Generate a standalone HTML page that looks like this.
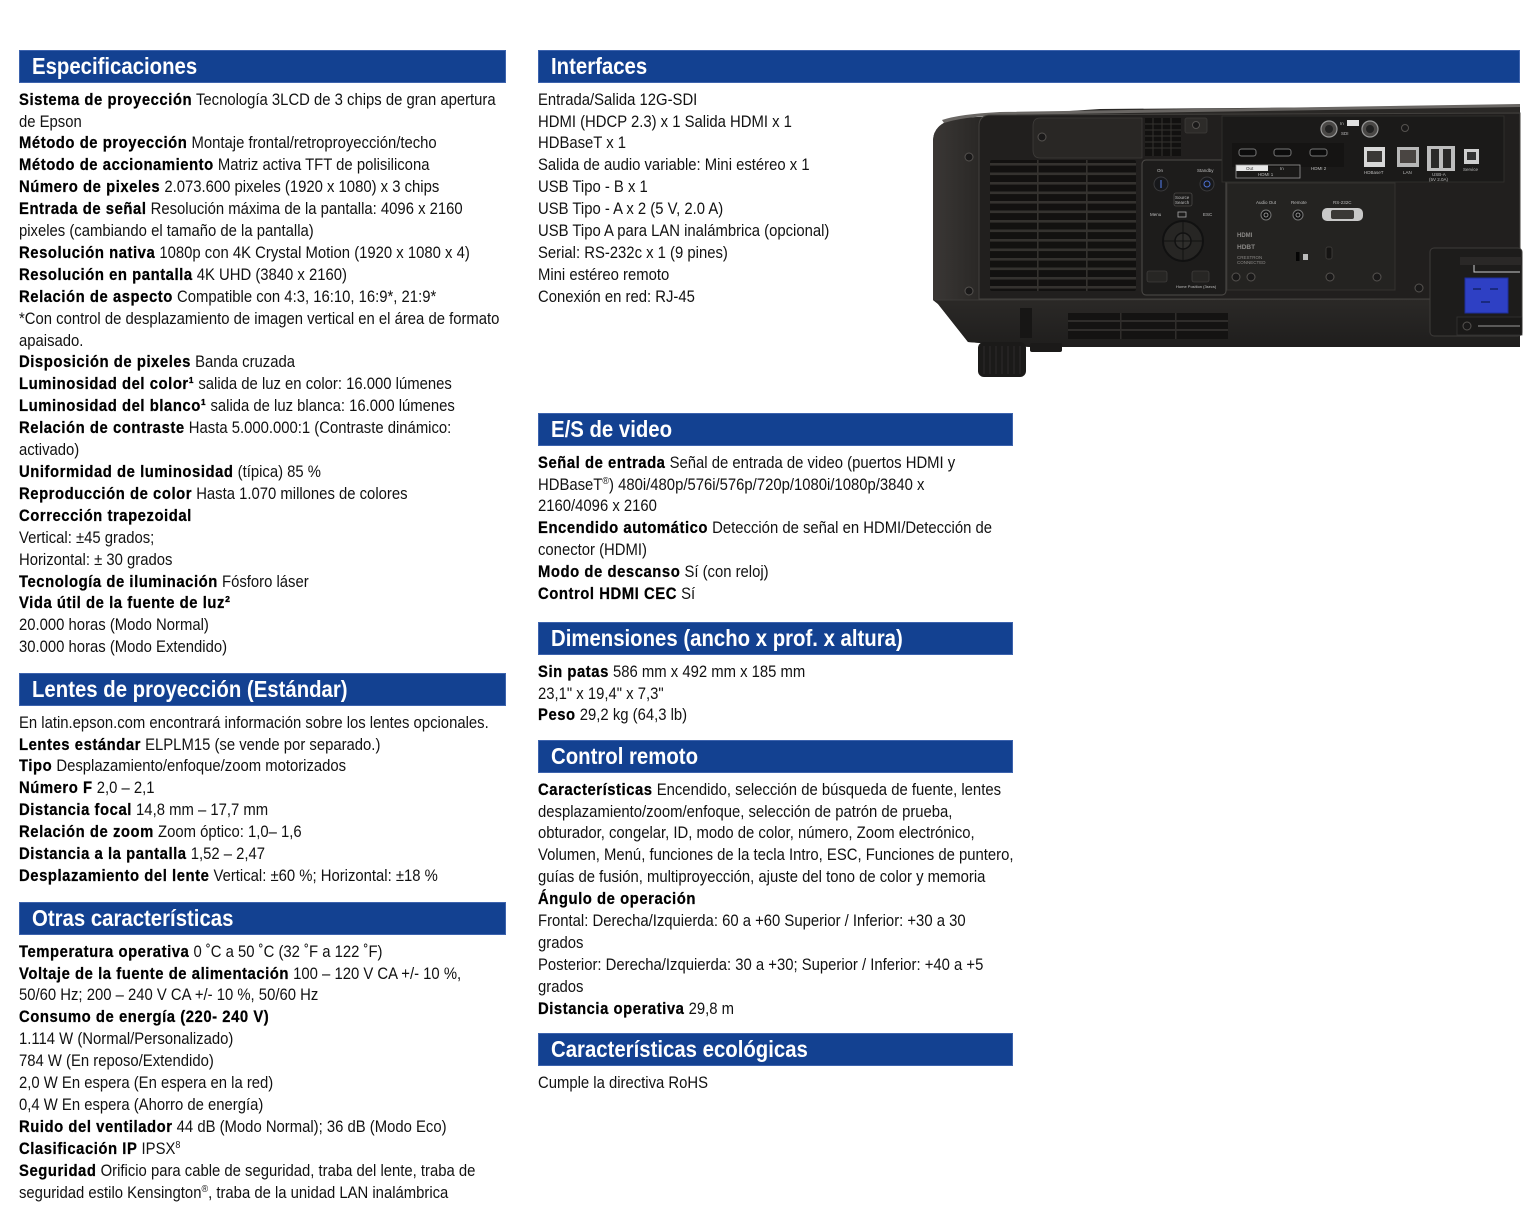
<!DOCTYPE html>
<html lang="es">
<head>
<meta charset="utf-8">
<style>
html,body{margin:0;padding:0;background:#fff;}
#pg{position:relative;width:1538px;height:1229px;overflow:hidden;background:#fff;}
.bar{position:absolute;height:33px;background:#134191;box-shadow:inset 0 0 0 1px #3d63ad;}
.bar span{position:absolute;left:13px;top:0;transform-origin:0 0;transform:scaleX(.885);font-family:"Liberation Sans",Arial,sans-serif;font-weight:bold;font-size:23px;line-height:33px;color:#fff;white-space:nowrap;}
.t{position:absolute;transform-origin:0 0;transform:scaleX(.9);font-family:"Liberation Sans",Arial,sans-serif;font-size:16.5px;line-height:21.92px;white-space:nowrap;color:#111;}
.t div{height:21.92px;overflow:visible;}
.t b{font-weight:bold;color:#000;letter-spacing:0.6px;-webkit-text-stroke:0.25px #000;}
.sm{font-size:10px;line-height:0;position:relative;top:-6px;}
</style>
</head>
<body>
<div id="pg">

<!-- LEFT COLUMN -->
<div class="bar" style="left:19px;top:50px;width:487px;"><span>Especificaciones</span></div>
<div class="t" style="left:19px;top:89.6px;">
<div><b>Sistema de proyección</b> Tecnología 3LCD de 3 chips de gran apertura</div>
<div>de Epson</div>
<div><b>Método de proyección</b> Montaje frontal/retroproyección/techo</div>
<div><b>Método de accionamiento</b> Matriz activa TFT de polisilicona</div>
<div><b>Número de pixeles</b> 2.073.600 pixeles (1920 x 1080) x 3 chips</div>
<div><b>Entrada de señal</b> Resolución máxima de la pantalla: 4096 x 2160</div>
<div>pixeles (cambiando el tamaño de la pantalla)</div>
<div><b>Resolución nativa</b> 1080p con 4K Crystal Motion (1920 x 1080 x 4)</div>
<div><b>Resolución en pantalla</b> 4K UHD (3840 x 2160)</div>
<div><b>Relación de aspecto</b> Compatible con 4:3, 16:10, 16:9*, 21:9*</div>
<div>*Con control de desplazamiento de imagen vertical en el área de formato</div>
<div>apaisado.</div>
<div><b>Disposición de pixeles</b> Banda cruzada</div>
<div><b>Luminosidad del color¹</b> salida de luz en color: 16.000 lúmenes</div>
<div><b>Luminosidad del blanco¹</b> salida de luz blanca: 16.000 lúmenes</div>
<div><b>Relación de contraste</b> Hasta 5.000.000:1 (Contraste dinámico:</div>
<div>activado)</div>
<div><b>Uniformidad de luminosidad</b> (típica) 85 %</div>
<div><b>Reproducción de color</b> Hasta 1.070 millones de colores</div>
<div><b>Corrección trapezoidal</b></div>
<div>Vertical: ±45 grados;</div>
<div>Horizontal: ± 30 grados</div>
<div><b>Tecnología de iluminación</b> Fósforo láser</div>
<div><b>Vida útil de la fuente de luz²</b></div>
<div>20.000 horas (Modo Normal)</div>
<div>30.000 horas (Modo Extendido)</div>
</div>

<div class="bar" style="left:19px;top:673px;width:487px;"><span>Lentes de proyección (Estándar)</span></div>
<div class="t" style="left:19px;top:712.6px;">
<div>En latin.epson.com encontrará información sobre los lentes opcionales.</div>
<div><b>Lentes estándar</b> ELPLM15 (se vende por separado.)</div>
<div><b>Tipo</b> Desplazamiento/enfoque/zoom motorizados</div>
<div><b>Número F</b> 2,0 – 2,1</div>
<div><b>Distancia focal</b> 14,8 mm – 17,7 mm</div>
<div><b>Relación de zoom</b> Zoom óptico: 1,0– 1,6</div>
<div><b>Distancia a la pantalla</b> 1,52 – 2,47</div>
<div><b>Desplazamiento del lente</b> Vertical: ±60 %; Horizontal: ±18 %</div>
</div>

<div class="bar" style="left:19px;top:902px;width:487px;"><span>Otras características</span></div>
<div class="t" style="left:19px;top:941.6px;">
<div><b>Temperatura operativa</b> 0 ˚C a 50 ˚C (32 ˚F a 122 ˚F)</div>
<div><b>Voltaje de la fuente de alimentación</b> 100 – 120 V CA +/- 10 %,</div>
<div>50/60 Hz; 200 – 240 V CA +/- 10 %, 50/60 Hz</div>
<div><b>Consumo de energía (220- 240 V)</b></div>
<div>1.114 W (Normal/Personalizado)</div>
<div>784 W (En reposo/Extendido)</div>
<div>2,0 W En espera (En espera en la red)</div>
<div>0,4 W En espera (Ahorro de energía)</div>
<div><b>Ruido del ventilador</b> 44 dB (Modo Normal); 36 dB (Modo Eco)</div>
<div><b>Clasificación IP</b> IPSX<span class="sm">8</span></div>
<div><b>Seguridad</b> Orificio para cable de seguridad, traba del lente, traba de</div>
<div>seguridad estilo Kensington<span class="sm">®</span>, traba de la unidad LAN inalámbrica</div>
</div>

<!-- RIGHT COLUMN -->
<div class="bar" style="left:538px;top:50px;width:982px;"><span>Interfaces</span></div>
<div class="t" style="left:538px;top:89.6px;">
<div>Entrada/Salida 12G-SDI</div>
<div>HDMI (HDCP 2.3) x 1 Salida HDMI x 1</div>
<div>HDBaseT x 1</div>
<div>Salida de audio variable: Mini estéreo x 1</div>
<div>USB Tipo - B x 1</div>
<div>USB Tipo - A x 2 (5 V, 2.0 A)</div>
<div>USB Tipo A para LAN inalámbrica (opcional)</div>
<div>Serial: RS-232c x 1 (9 pines)</div>
<div>Mini estéreo remoto</div>
<div>Conexión en red: RJ-45</div>
</div>

<div class="bar" style="left:538px;top:413px;width:475px;"><span>E/S de video</span></div>
<div class="t" style="left:538px;top:452.6px;">
<div><b>Señal de entrada</b> Señal de entrada de video (puertos HDMI y</div>
<div>HDBaseT<span class="sm">®</span>) 480i/480p/576i/576p/720p/1080i/1080p/3840 x</div>
<div>2160/4096 x 2160</div>
<div><b>Encendido automático</b> Detección de señal en HDMI/Detección de</div>
<div>conector (HDMI)</div>
<div><b>Modo de descanso</b> Sí (con reloj)</div>
<div><b>Control HDMI CEC</b> Sí</div>
</div>

<div class="bar" style="left:538px;top:622px;width:475px;"><span>Dimensiones (ancho x prof. x altura)</span></div>
<div class="t" style="left:538px;top:661.6px;">
<div><b>Sin patas</b> 586 mm x 492 mm x 185 mm</div>
<div>23,1" x 19,4" x 7,3"</div>
<div><b>Peso</b> 29,2 kg (64,3 lb)</div>
</div>

<div class="bar" style="left:538px;top:740px;width:475px;"><span>Control remoto</span></div>
<div class="t" style="left:538px;top:779.6px;">
<div><b>Características</b> Encendido, selección de búsqueda de fuente, lentes</div>
<div>desplazamiento/zoom/enfoque, selección de patrón de prueba,</div>
<div>obturador, congelar, ID, modo de color, número, Zoom electrónico,</div>
<div>Volumen, Menú, funciones de la tecla Intro, ESC, Funciones de puntero,</div>
<div>guías de fusión, multiproyección, ajuste del tono de color y memoria</div>
<div><b>Ángulo de operación</b></div>
<div>Frontal: Derecha/Izquierda: 60 a +60 Superior / Inferior: +30 a 30</div>
<div>grados</div>
<div>Posterior: Derecha/Izquierda: 30 a +30; Superior / Inferior: +40 a +5</div>
<div>grados</div>
<div><b>Distancia operativa</b> 29,8 m</div>
</div>

<div class="bar" style="left:538px;top:1033px;width:475px;"><span>Características ecológicas</span></div>
<div class="t" style="left:538px;top:1072.6px;">
<div>Cumple la directiva RoHS</div>
</div>

<!-- PROJECTOR -->
<svg style="position:absolute;left:920px;top:95px;" width="618" height="290" viewBox="920 95 618 290" xmlns="http://www.w3.org/2000/svg">
<defs>
<linearGradient id="side" x1="0" y1="0" x2="1" y2="0">
<stop offset="0" stop-color="#3a3735"/><stop offset="1" stop-color="#2a2826"/>
</linearGradient>
<linearGradient id="low" x1="0" y1="0" x2="0" y2="1">
<stop offset="0" stop-color="#2b2927"/><stop offset="1" stop-color="#1f1e1d"/>
</linearGradient>
</defs>
<!-- body -->
<path d="M933 140 Q934 121 962 118 L1100 109 L1520 106 L1520 347 L1030 347 L968 342 L938 304 L933 300 Z" fill="#2a2826"/>
<path d="M933 140 Q934 121 962 118 L979 117 L979 299 L933 300 Z" fill="url(#side)"/>
<path d="M942 120 Q960 114 1000 112 L1520 104 L1520 107 L1000 115 Q962 117 944 123 Z" fill="#6a6764"/>
<!-- lower body -->
<path d="M933 300 L1520 299 L1520 347 L1030 347 L968 342 L938 304 Z" fill="url(#low)"/>
<line x1="935" y1="300" x2="1520" y2="299" stroke="#3c3a38" stroke-width="1"/>
<!-- front recessed panel -->
<path d="M979 126 Q979 115 991 115 L1520 113 L1520 299 L979 299 Z" fill="#211f1e" stroke="#43413e" stroke-width="1"/>
<!-- cover plate -->
<path d="M1040 118 L1142 118 L1142 158 L1040 158 Q1033 158 1033 150 L1033 126 Q1033 118 1040 118 Z" fill="#292725" stroke="#3e3c3a" stroke-width="0.8"/>
<!-- small top vent -->
<rect x="1145" y="118" width="36" height="38" fill="#121110"/>
<g stroke="#34322f" stroke-width="1">
<line x1="1145" y1="124" x2="1181" y2="124"/><line x1="1145" y1="130" x2="1181" y2="130"/><line x1="1145" y1="136" x2="1181" y2="136"/><line x1="1145" y1="142" x2="1181" y2="142"/><line x1="1145" y1="148" x2="1181" y2="148"/>
<line x1="1153" y1="118" x2="1153" y2="156"/><line x1="1162" y1="118" x2="1162" y2="156"/><line x1="1171" y1="118" x2="1171" y2="156"/>
</g>
<rect x="1185" y="118" width="22" height="15" rx="2" fill="#2d2b29" stroke="#3e3c3a" stroke-width="0.8"/>
<!-- main vent -->
<rect x="990" y="160" width="146" height="131" rx="2" fill="#121110"/>
<g fill="#34322f">
<rect x="990" y="163" width="146" height="2.6"/><rect x="990" y="172.5" width="146" height="2.6"/><rect x="990" y="182" width="146" height="2.6"/><rect x="990" y="191.5" width="146" height="2.6"/><rect x="990" y="201" width="146" height="2.6"/><rect x="990" y="210.5" width="146" height="2.6"/><rect x="990" y="220" width="146" height="2.6"/><rect x="990" y="229.5" width="146" height="2.6"/><rect x="990" y="239" width="146" height="2.6"/><rect x="990" y="248.5" width="146" height="2.6"/><rect x="990" y="258" width="146" height="2.6"/><rect x="990" y="267.5" width="146" height="2.6"/><rect x="990" y="277" width="146" height="2.6"/><rect x="990" y="286" width="146" height="2.6"/>
<rect x="1037" y="160" width="1.6" height="131"/><rect x="1086" y="160" width="1.6" height="131"/>
</g>
<!-- control panel -->
<rect x="1142" y="160" width="84" height="135" rx="4" fill="#1d1c1b" stroke="#4d4b48" stroke-width="1"/>
<g font-family="Liberation Sans, Arial, sans-serif" fill="#bdbdbd" font-size="4.5">
<text x="1157" y="172">On</text><text x="1197" y="172">Standby</text>
<text x="1175" y="199">Source</text><text x="1175" y="204">Search</text>
<text x="1150" y="216">Menu</text><text x="1203" y="216">ESC</text>
<text x="1177" y="241">Enter</text>
<text x="1149" y="278">Shutter</text><text x="1195" y="278">Lens</text>
<text x="1176" y="288" font-size="4">Home Position (3secs)</text>
</g>
<circle cx="1161" cy="184" r="7" fill="#17181b" stroke="#3a3a3c"/>
<line x1="1161" y1="180" x2="1161" y2="188" stroke="#4b6fd0" stroke-width="1.2"/>
<circle cx="1207" cy="184" r="7" fill="#17181b" stroke="#3a3a3c"/>
<circle cx="1207" cy="184" r="3" fill="none" stroke="#4b6fd0" stroke-width="1"/>
<rect x="1174" y="193" width="18" height="13" rx="2" fill="none" stroke="#4a4846" stroke-width="0.8"/>
<rect x="1178" y="212" width="8" height="5" fill="none" stroke="#aaa" stroke-width="0.8"/>
<circle cx="1183" cy="241" r="20" fill="#272624" stroke="#111" stroke-width="2"/>
<circle cx="1183" cy="241" r="8" fill="#2f2e2c" stroke="#111" stroke-width="1.5"/>
<line x1="1163" y1="241" x2="1203" y2="241" stroke="#111" stroke-width="1"/>
<line x1="1183" y1="221" x2="1183" y2="261" stroke="#111" stroke-width="1"/>
<rect x="1147" y="271" width="20" height="11" rx="2" fill="#272624" stroke="#4a4846" stroke-width="0.6"/>
<rect x="1192" y="271" width="17" height="11" rx="2" fill="#272624" stroke="#4a4846" stroke-width="0.6"/>
<!-- upper port area -->
<rect x="1222" y="116" width="282" height="66" fill="#1b1a19" stroke="#34322f" stroke-width="0.8"/>
<rect x="1232" y="143" width="112" height="24" fill="#151413"/>
<g fill="#0c0c0c" stroke="#777" stroke-width="1">
<rect x="1239" y="149" width="17" height="7" rx="2.5"/>
<rect x="1274" y="149" width="17" height="7" rx="2.5"/>
<rect x="1310" y="149" width="17" height="7" rx="2.5"/>
</g>
<rect x="1236" y="165" width="32" height="6" fill="#e8e8e8"/>
<rect x="1236" y="165" width="64" height="13" fill="none" stroke="#999" stroke-width="0.8"/>
<g font-family="Liberation Sans, Arial, sans-serif" font-size="4.5">
<text x="1246" y="170" fill="#333">Out</text>
<text x="1280" y="170" fill="#bbb">In</text>
<text x="1258" y="176" fill="#bbb">HDMI 1</text>
<text x="1311" y="170" fill="#bbb">HDMI 2</text>
<text x="1364" y="174" fill="#bbb">HDBaseT</text>
<text x="1403" y="174" fill="#bbb">LAN</text>
<text x="1432" y="176" fill="#bbb">USB-A</text>
<text x="1429" y="181" fill="#bbb">(5V 2.0A)</text>
<text x="1463" y="171" fill="#bbb">Service</text>
<text x="1341" y="135" fill="#bbb">SDI</text>
<text x="1340" y="125" fill="#bbb">In</text>
</g>
<rect x="1347" y="120" width="12" height="6" fill="#e0e0e0"/>
<circle cx="1329" cy="129" r="8" fill="#4a4846" stroke="#999" stroke-width="1.2"/>
<circle cx="1329" cy="129" r="4" fill="#222"/>
<circle cx="1370" cy="129" r="8" fill="#4a4846" stroke="#999" stroke-width="1.2"/>
<circle cx="1370" cy="129" r="4" fill="#222"/>
<rect x="1364" y="147" width="21" height="20" fill="#d8d8d8"/>
<rect x="1367" y="151" width="15" height="11" fill="#3a3836"/>
<rect x="1397" y="147" width="22" height="20" fill="#b8b8b8"/>
<rect x="1400" y="150" width="16" height="13" fill="#4a4542"/>
<rect x="1427" y="146" width="28" height="25" fill="#bdbdbd"/>
<rect x="1431" y="149" width="8" height="19" fill="#2a2928"/>
<rect x="1443" y="149" width="8" height="19" fill="#2a2928"/>
<rect x="1464" y="149" width="15" height="15" fill="#cfcfcf"/>
<rect x="1467" y="152" width="9" height="8" fill="#333"/>
<!-- lower I/O panel -->
<rect x="1227" y="183" width="168" height="107" fill="#242321" stroke="#33312f" stroke-width="1"/>
<g font-family="Liberation Sans, Arial, sans-serif" font-size="4.5" fill="#bbb">
<text x="1256" y="204">Audio Out</text><text x="1291" y="204">Remote</text><text x="1333" y="204">RS-232C</text>
</g>
<circle cx="1266" cy="215" r="5" fill="#121212" stroke="#777"/>
<circle cx="1266" cy="215" r="2" fill="none" stroke="#aaa" stroke-width="0.8"/>
<circle cx="1298" cy="215" r="5" fill="#121212" stroke="#777"/>
<circle cx="1298" cy="215" r="2" fill="none" stroke="#aaa" stroke-width="0.8"/>
<rect x="1322" y="208" width="41" height="13" rx="5" fill="#c8c8c8"/>
<rect x="1331" y="210" width="23" height="9" rx="2" fill="#3a3836"/>
<g font-family="Liberation Sans, Arial, sans-serif" fill="#8a8886">
<text x="1237" y="237" font-size="6" font-weight="bold">HDMI</text>
<text x="1237" y="249" font-size="6.5" font-weight="bold">HDBT</text>
<text x="1237" y="259" font-size="4.5">CRESTRON</text>
<text x="1237" y="264" font-size="4.5">CONNECTED</text>
</g>
<rect x="1296" y="252" width="3.5" height="9" fill="#050505"/>
<rect x="1303" y="254" width="5" height="6" fill="#bbb"/>
<rect x="1326" y="247" width="6" height="12" rx="2" fill="#151413" stroke="#3a3836"/>
<!-- power module -->
<rect x="1430" y="248" width="92" height="88" rx="4" fill="#1d1c1b" stroke="#3d3b39" stroke-width="1"/>
<rect x="1460" y="257" width="62" height="8" fill="#2a2827"/>
<path d="M1474 265 L1474 272 L1520 272" fill="none" stroke="#ccc" stroke-width="1"/>
<rect x="1465" y="278" width="43" height="35" fill="#2e40c4" stroke="#1e2e9a" stroke-width="1"/>
<rect x="1473" y="288" width="8" height="2" fill="#1a2a80"/>
<rect x="1490" y="288" width="8" height="2" fill="#1a2a80"/>
<rect x="1481" y="301" width="9" height="2" fill="#1a2a80"/>
<rect x="1457" y="317" width="65" height="18" fill="#1a1918" stroke="#333" stroke-width="0.8"/>
<line x1="1478" y1="326" x2="1520" y2="326" stroke="#999" stroke-width="1"/>
<!-- lower vent -->
<rect x="1068" y="313" width="160" height="26" fill="#141312"/>
<g fill="#2f2d2b">
<rect x="1068" y="320" width="160" height="2"/><rect x="1068" y="329" width="160" height="2"/>
<rect x="1120" y="313" width="1.5" height="26"/><rect x="1175" y="313" width="1.5" height="26"/>
</g>
<rect x="1020" y="308" width="12" height="30" fill="#171615"/>
<!-- feet -->
<rect x="978" y="342" width="48" height="35" rx="6" fill="#1b1a19"/>
<g stroke="#2c2b2a" stroke-width="1">
<line x1="984" y1="346" x2="984" y2="374"/><line x1="990" y1="346" x2="990" y2="374"/><line x1="996" y1="346" x2="996" y2="374"/><line x1="1002" y1="346" x2="1002" y2="374"/><line x1="1008" y1="346" x2="1008" y2="374"/><line x1="1014" y1="346" x2="1014" y2="374"/><line x1="1020" y1="346" x2="1020" y2="374"/>
</g>
<rect x="1030" y="343" width="32" height="9" rx="2" fill="#1b1a19"/>
<!-- screws -->
<g fill="#1a1919" stroke="#55524f" stroke-width="1">
<circle cx="969" cy="157" r="4"/><circle cx="969" cy="291" r="4"/><circle cx="1042" cy="137" r="4"/><circle cx="1196" cy="125" r="3.5"/><circle cx="1405" cy="128" r="3.5"/>
<circle cx="1236" cy="277" r="4"/><circle cx="1251" cy="277" r="4"/><circle cx="1330" cy="277" r="4"/><circle cx="1377" cy="277" r="4"/><circle cx="1419" cy="288" r="4"/><circle cx="1467" cy="326" r="4"/>
</g>
</svg>

</div>
</body>
</html>
